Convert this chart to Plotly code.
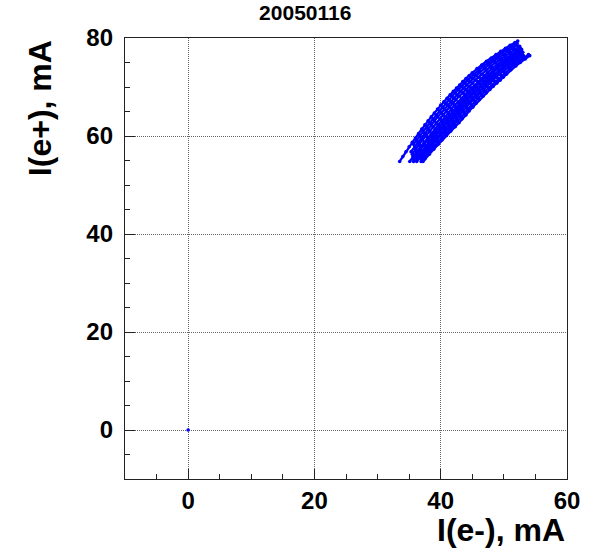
import plotly.graph_objects as go

# Beam currents logged during 2005-01-16: electron current I(e-) vs positron current I(e+), mA.
# One list per fill, from the low-current end to the injection end.
i_electron_fills = [
    [33.5, 34.0, 34.5, 35.0, 35.5, 36.0, 36.5, 37.0, 37.5, 38.0, 38.5, 39.0, 39.5, 40.0, 40.5, 41.0, 41.5,
     42.0, 42.5, 43.0, 43.5, 44.0, 44.5, 45.0, 45.75, 46.5, 47.25, 48.0, 48.75, 49.5, 50.25, 51.0, 51.75, 52.2],
    [35.7, 36.2, 36.7, 37.2, 37.8, 38.3, 38.8, 39.3, 39.8, 40.3, 40.8, 41.3, 41.8, 42.3, 42.8, 43.3, 43.8,
     44.3, 44.8, 45.3, 46.1, 46.8, 47.6, 48.3, 49.1, 49.8, 50.6, 51.3, 52.1],
    [35.3, 35.9, 36.4, 36.9, 37.5, 38.0, 38.5, 39.0, 39.5, 40.1, 40.6, 41.1, 41.6, 42.1, 42.6, 43.1, 43.6,
     44.1, 44.6, 45.1, 45.6, 46.1, 46.9, 47.6, 48.4, 49.1, 49.9, 50.6, 51.4, 52.1],
    [35.5, 36.0, 36.6, 37.1, 37.7, 38.3, 38.8, 39.3, 39.9, 40.4, 40.9, 41.4, 41.9, 42.4, 42.9, 43.5, 44.0,
     44.5, 45.0, 45.5, 46.0, 46.5, 47.2, 48.0, 48.7, 49.5, 50.2, 51.0, 51.7, 52.5],
    [35.1, 35.6, 36.2, 36.8, 37.4, 37.9, 38.5, 39.1, 39.6, 40.2, 40.7, 41.2, 41.7, 42.2, 42.8, 43.3, 43.8,
     44.3, 44.8, 45.4, 45.9, 46.4, 46.9, 47.4, 48.1, 48.9, 49.6, 50.4, 51.1, 51.9, 52.6],
    [35.7, 36.2, 36.8, 37.4, 38.0, 38.6, 39.2, 39.8, 40.3, 40.8, 41.4, 41.9, 42.4, 42.9, 43.5, 44.0, 44.5,
     45.0, 45.5, 46.1, 46.6, 47.1, 47.6, 48.3, 49.1, 49.8, 50.6, 51.3, 52.1, 52.8],
    [35.7, 36.3, 36.9, 37.5, 38.1, 38.7, 39.3, 39.9, 40.5, 41.0, 41.5, 42.0, 42.6, 43.1, 43.6, 44.1, 44.7,
     45.2, 45.7, 46.3, 46.8, 47.3, 47.8, 48.3, 49.0, 49.8, 50.5, 51.3, 52.0, 52.8],
    [36.3, 36.9, 37.5, 38.1, 38.7, 39.3, 39.9, 40.6, 41.1, 41.7, 42.2, 42.7, 43.3, 43.8, 44.3, 44.8, 45.4,
     45.9, 46.4, 47.0, 47.5, 48.0, 48.5, 49.2, 50.0, 50.7, 51.5, 52.2, 53.0],
    [36.2, 36.9, 37.5, 38.1, 38.8, 39.4, 40.0, 40.7, 41.3, 41.8, 42.3, 42.9, 43.4, 43.9, 44.5, 45.0, 45.5,
     46.1, 46.6, 47.1, 47.6, 48.1, 48.6, 49.1, 49.9, 50.6, 51.4, 52.1, 52.9],
    [36.9, 37.5, 38.1, 38.8, 39.4, 40.1, 40.7, 41.4, 42.0, 42.5, 43.0, 43.6, 44.1, 44.6, 45.2, 45.7, 46.2,
     46.8, 47.3, 47.8, 48.3, 48.8, 49.3, 50.1, 50.8, 51.6, 52.3, 53.1],
    [36.9, 37.5, 38.2, 38.9, 39.5, 40.2, 40.8, 41.5, 42.1, 42.7, 43.2, 43.8, 44.3, 44.9, 45.4, 45.9, 46.5,
     47.0, 47.6, 48.1, 48.6, 49.1, 49.6, 50.1, 50.9, 51.6, 52.4, 53.1, 53.9],
    [37.2, 37.5, 38.2, 38.9, 39.6, 40.2, 40.9, 41.6, 42.3, 42.9, 43.4, 44.0, 44.5, 45.1, 45.6, 46.1, 46.7,
     47.2, 47.8, 48.3, 48.9, 49.4, 49.9, 50.4, 51.1, 51.9, 52.6, 53.4, 54.1],
]

i_positron_fills = [
    [54.8, 55.8, 56.8, 57.8, 58.7, 59.6, 60.5, 61.4, 62.3, 63.1, 63.9, 64.7, 65.5, 66.3, 67.0, 67.7, 68.4,
     69.1, 69.8, 70.4, 71.1, 71.7, 72.3, 72.9, 73.75, 74.5, 75.25, 75.9, 76.6, 77.3, 77.9, 78.5, 79.05, 79.4],
    [58.3, 59.2, 60.1, 61.0, 61.9, 62.7, 63.5, 64.3, 65.1, 65.9, 66.7, 67.4, 68.1, 68.8, 69.5, 70.1, 70.8,
     71.4, 72.0, 72.6, 73.5, 74.3, 75.0, 75.7, 76.4, 77.1, 77.7, 78.3, 78.9],
    [56.8, 57.8, 58.7, 59.6, 60.5, 61.4, 62.3, 63.1, 63.9, 64.7, 65.5, 66.3, 67.0, 67.7, 68.4, 69.1, 69.8,
     70.4, 71.1, 71.7, 72.3, 72.9, 73.8, 74.5, 75.3, 75.9, 76.6, 77.3, 77.9, 78.5],
    [56.3, 57.3, 58.3, 59.2, 60.1, 61.0, 61.9, 62.7, 63.5, 64.3, 65.1, 65.9, 66.7, 67.4, 68.1, 68.8, 69.5,
     70.1, 70.8, 71.4, 72.0, 72.6, 73.5, 74.3, 75.0, 75.7, 76.4, 77.1, 77.7, 78.3],
    [54.8, 55.8, 56.8, 57.8, 58.7, 59.6, 60.5, 61.4, 62.3, 63.1, 63.9, 64.7, 65.5, 66.3, 67.0, 67.7, 68.4,
     69.1, 69.8, 70.4, 71.1, 71.7, 72.3, 72.9, 73.8, 74.5, 75.3, 75.9, 76.6, 77.3, 77.9],
    [55.3, 56.3, 57.3, 58.3, 59.2, 60.1, 61.0, 61.9, 62.7, 63.5, 64.3, 65.1, 65.9, 66.7, 67.4, 68.1, 68.8,
     69.5, 70.1, 70.8, 71.4, 72.0, 72.6, 73.5, 74.3, 75.0, 75.7, 76.4, 77.1, 77.7],
    [54.8, 55.8, 56.8, 57.8, 58.7, 59.6, 60.5, 61.4, 62.3, 63.1, 63.9, 64.7, 65.5, 66.3, 67.0, 67.7, 68.4,
     69.1, 69.8, 70.4, 71.1, 71.7, 72.3, 72.9, 73.8, 74.5, 75.3, 75.9, 76.6, 77.3],
    [55.3, 56.3, 57.3, 58.3, 59.2, 60.1, 61.0, 61.9, 62.7, 63.5, 64.3, 65.1, 65.9, 66.7, 67.4, 68.1, 68.8,
     69.5, 70.1, 70.8, 71.4, 72.0, 72.6, 73.5, 74.3, 75.0, 75.7, 76.4, 77.1],
    [54.8, 55.8, 56.8, 57.8, 58.7, 59.6, 60.5, 61.4, 62.3, 63.1, 63.9, 64.7, 65.5, 66.3, 67.0, 67.7, 68.4,
     69.1, 69.8, 70.4, 71.1, 71.7, 72.3, 72.9, 73.8, 74.5, 75.3, 75.9, 76.6],
    [55.3, 56.3, 57.3, 58.3, 59.2, 60.1, 61.0, 61.9, 62.7, 63.5, 64.3, 65.1, 65.9, 66.7, 67.4, 68.1, 68.8,
     69.5, 70.1, 70.8, 71.4, 72.0, 72.6, 73.5, 74.3, 75.0, 75.7, 76.4],
    [54.8, 55.8, 56.8, 57.8, 58.7, 59.6, 60.5, 61.4, 62.3, 63.1, 63.9, 64.7, 65.5, 66.3, 67.0, 67.7, 68.4,
     69.1, 69.8, 70.4, 71.1, 71.7, 72.3, 72.9, 73.8, 74.5, 75.3, 75.9, 76.6],
    [54.8, 55.3, 56.3, 57.3, 58.3, 59.2, 60.1, 61.0, 61.9, 62.7, 63.5, 64.3, 65.1, 65.9, 66.7, 67.4, 68.1,
     68.8, 69.5, 70.1, 70.8, 71.4, 72.0, 72.6, 73.5, 74.3, 75.0, 75.7, 76.4],
]

# Readings taken with both beams off
idle_electron = [0.0]
idle_positron = [0.0]

x_ticks = [0, 20, 40, 60]
y_ticks = [0, 20, 40, 60, 80]

plot_title = "20050116"
x_title = "I(e-), mA"
y_title = "I(e+), mA"

FONT = "Liberation Sans, Arial, Helvetica, sans-serif"
AXIS_COLOR = "#222222"
GRID_COLOR = "#666666"
BLUE = "#0000ff"

fig = go.Figure()

# Each fill drawn as a chain of readings
for fx, fy in zip(i_electron_fills, i_positron_fills):
    fig.add_trace(go.Scatter(
        x=fx, y=fy, mode="lines+markers",
        line=dict(color=BLUE, width=2.3),
        marker=dict(color=BLUE, size=3.6, line=dict(width=0)),
        hoverinfo="x+y", showlegend=False,
    ))

fig.add_trace(go.Scatter(
    x=idle_electron, y=idle_positron, mode="markers",
    marker=dict(color=BLUE, size=3.6, line=dict(width=0)),
    hoverinfo="x+y", showlegend=False,
))

axis_common = dict(
    showline=True, linecolor=AXIS_COLOR, linewidth=1.3, mirror=True,
    ticks="inside", ticklen=10, tickwidth=1.3, tickcolor=AXIS_COLOR,
    showgrid=True, gridcolor=GRID_COLOR, gridwidth=1, griddash="1px,1px",
    zeroline=False,
    tickfont=dict(family=FONT, size=24, color="black", weight="bold"),
    minor=dict(ticks="inside", ticklen=5, tickwidth=1.3, tickcolor=AXIS_COLOR, dtick=5, showgrid=False),
)

fig.update_xaxes(range=[-10, 60], tickvals=x_ticks, ticktext=[str(v) for v in x_ticks],
                 ticklabelstandoff=0, **axis_common)
fig.update_yaxes(range=[-10, 80], tickvals=y_ticks, ticktext=[str(v) for v in y_ticks],
                 ticklabelstandoff=6, **axis_common)

fig.update_layout(
    width=595, height=550,
    margin=dict(l=125, r=28, t=38, b=71, pad=0),
    paper_bgcolor="white", plot_bgcolor="white",
    title=dict(text=plot_title, x=0.513, xanchor="center", y=0.977, yanchor="middle",
               xref="container", yref="container",
               font=dict(family=FONT, size=21, color="black", weight="bold")),
    annotations=[
        dict(text=x_title, xref="paper", yref="paper", x=1.0, y=-0.115,
             xanchor="right", yanchor="middle", showarrow=False,
             font=dict(family=FONT, size=32, color="black", weight="bold")),
        dict(text=y_title, xref="paper", yref="paper", x=-0.192, y=1.0,
             xanchor="center", yanchor="top", textangle=-90, showarrow=False,
             font=dict(family=FONT, size=32, color="black", weight="bold")),
    ],
)

fig.write_html("out.html")
